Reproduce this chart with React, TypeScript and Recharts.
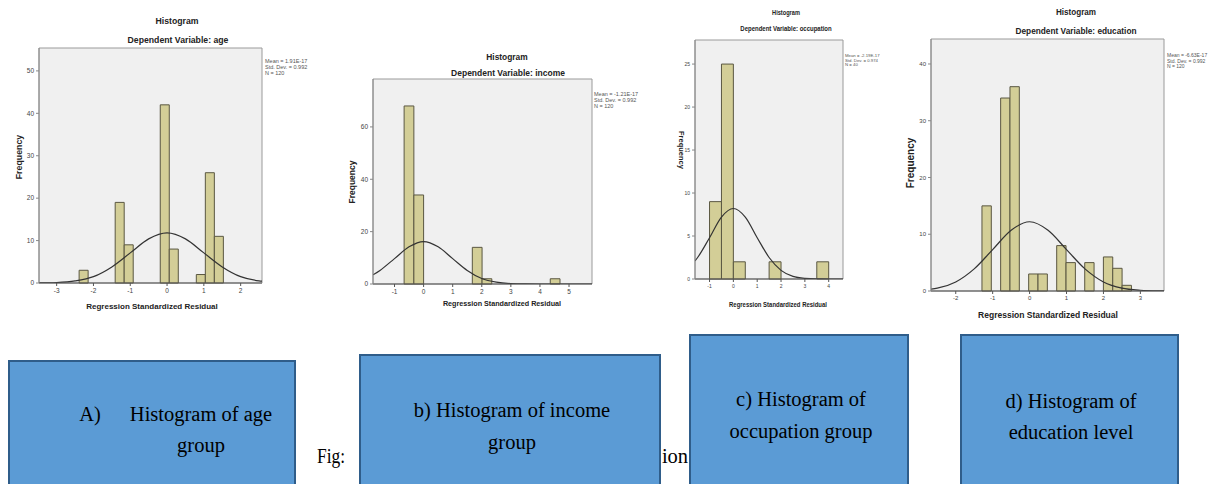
import React from "react";
import { ComposedChart, Line, XAxis, YAxis, ReferenceArea } from "recharts";

// a) age
const ageBinStart = [-2.39, -1.41, -1.165, -0.185, 0.06, 0.795, 1.04, 1.285];
const ageCounts = [3, 19, 9, 42, 8, 2, 26, 11];
const ageBinWidth = 0.245;
const ageCurveX = [-3.5, -3, -2.5, -2, -1.5, -1, -0.5, 0, 0.5, 1, 1.5, 2, 2.5, 2.6];
const ageCurveY = [0.02, 0.12, 0.5, 1.5, 3.8, 7.1, 10.4, 11.8, 10.4, 7.1, 3.8, 1.5, 0.5, 0.4];
const ageXTicks = [-3, -2, -1, 0, 1, 2];
const ageYTicks = [0, 10, 20, 30, 40, 50];

// b) income
const incomeBinStart = [-0.67, -0.335, 1.675, 2.01, 4.355];
const incomeCounts = [68, 34, 14, 2, 2];
const incomeBinWidth = 0.335;
const incomeCurveX = [-1.74, -1.5, -1, -0.5, 0, 0.5, 1, 1.5, 2, 2.5, 3, 3.5, 4, 5, 5.79];
const incomeCurveY = [3.5, 5.2, 9.7, 14.2, 16.2, 14.2, 9.7, 5.2, 2.1, 0.7, 0.17, 0.03, 0, 0, 0];
const incomeXTicks = [-1, 0, 1, 2, 3, 4, 5];
const incomeYTicks = [0, 20, 40, 60];

// c) occupation
const occBinStart = [-1, -0.5, 0, 1.5, 3.5];
const occCounts = [9, 25, 2, 2, 2];
const occBinWidth = 0.5;
const occCurveX = [-1.61, -1.5, -1, -0.5, 0, 0.5, 1, 1.5, 2, 2.5, 3, 3.5, 4, 4.6];
const occCurveY = [2.1, 2.5, 4.8, 7.2, 8.2, 7.2, 4.8, 2.5, 1.0, 0.3, 0.07, 0.01, 0, 0];
const occXTicks = [-1, 0, 1, 2, 3, 4];
const occYTicks = [0, 5, 10, 15, 20, 25];

// d) education
const eduBinStart = [-1.29, -0.784, -0.531, -0.025, 0.228, 0.734, 0.987, 1.493, 1.999, 2.252, 2.505];
const eduCounts = [15, 34, 36, 3, 3, 8, 5, 5, 6, 4, 1];
const eduBinWidth = 0.253;
const eduCurveX = [-2.67, -2.5, -2, -1.5, -1, -0.5, 0, 0.5, 1, 1.5, 2, 2.5, 3, 3.5, 3.64];
const eduCurveY = [0.33, 0.5, 1.6, 3.9, 7.3, 10.7, 12.2, 10.7, 7.3, 3.9, 1.6, 0.5, 0.13, 0.02, 0.01];
const eduXTicks = [-2, -1, 0, 1, 2, 3];
const eduYTicks = [0, 10, 20, 30, 40];

const BAR_FILL = "#d3ce97";
const BAR_EDGE = "#5a5742";

type HistProps = {
  left: number;
  top: number;
  width: number;
  height: number;
  xDomain: [number, number];
  yMax: number;
  xTicks: number[];
  yTicks: number[];
  binStart: number[];
  counts: number[];
  binWidth: number;
  curveX: number[];
  curveY: number[];
  tickFont: number;
};

function Histogram(p: HistProps) {
  const AXW = 30;
  const AXH = 16;
  const PAD = 4;
  const data = p.curveX.map((x, i) => ({ x, y: p.curveY[i] }));
  const tick = { fontSize: p.tickFont, fill: "#444" };
  return (
    <div style={{ position: "absolute", left: p.left - AXW, top: p.top - PAD }}>
      <ComposedChart
        width={p.width + AXW + PAD}
        height={p.height + PAD + AXH}
        data={data}
        margin={{ top: PAD, right: PAD, bottom: 0, left: 0 }}
      >
        <XAxis
          type="number"
          dataKey="x"
          domain={p.xDomain}
          ticks={p.xTicks}
          allowDataOverflow
          interval={0}
          height={AXH}
          tickSize={3}
          tick={tick}
          stroke="#555"
        />
        <YAxis
          type="number"
          domain={[0, p.yMax]}
          ticks={p.yTicks}
          allowDataOverflow
          interval={0}
          width={AXW}
          tickSize={3}
          tick={tick}
          stroke="#888"
        />
        <ReferenceArea
          x1={p.xDomain[0]}
          x2={p.xDomain[1]}
          y1={0}
          y2={p.yMax}
          fill="#f0f0f0"
          fillOpacity={1}
          stroke="#9a9a9a"
        />
        {p.binStart.map((b, i) => (
          <ReferenceArea
            key={i}
            x1={b}
            x2={b + p.binWidth}
            y1={0}
            y2={p.counts[i]}
            fill={BAR_FILL}
            fillOpacity={1}
            stroke={BAR_EDGE}
            strokeWidth={1}
          />
        ))}
        <Line
          dataKey="y"
          type="monotone"
          dot={false}
          stroke="#333"
          strokeWidth={1.2}
          isAnimationActive={false}
        />
      </ComposedChart>
    </div>
  );
}

function Txt({
  x,
  y,
  size,
  bold = true,
  rotate = 0,
  sx = 1,
  color = "#222",
  family,
  children,
}: {
  x: number;
  y: number;
  size: number;
  bold?: boolean;
  rotate?: number;
  sx?: number;
  color?: string;
  family?: string;
  children: React.ReactNode;
}) {
  return (
    <div
      style={{
        position: "absolute",
        left: x,
        top: y,
        transform: `translate(-50%,-50%) rotate(${rotate}deg) scaleX(${sx})`,
        fontSize: size,
        fontWeight: bold ? 700 : 400,
        whiteSpace: "nowrap",
        color,
        lineHeight: 1,
        fontFamily: family,
      }}
    >
      {children}
    </div>
  );
}

function Stats({ x, y, size, lines }: { x: number; y: number; size: number; lines: string[] }) {
  return (
    <div
      style={{
        position: "absolute",
        left: x,
        top: y,
        fontSize: size,
        lineHeight: 1.1,
        color: "#555",
        whiteSpace: "nowrap",
      }}
    >
      {lines.map((l, i) => (
        <div key={i}>{l}</div>
      ))}
    </div>
  );
}

function Box({ left, top, width, children }: { left: number; top: number; width: number; children?: React.ReactNode }) {
  return (
    <div
      style={{
        position: "absolute",
        left,
        top,
        width,
        height: 484 - top + 10,
        background: "#5b9bd5",
        border: "2px solid #2f5d8a",
        boxSizing: "border-box",
      }}
    >
      {children}
    </div>
  );
}

const serif = "'Liberation Serif', 'Times New Roman', serif";
const BOX_FONT = 20.5;

export default function App() {
  return (
    <div
      style={{
        position: "absolute",
        left: 0,
        top: 0,
        width: 1217,
        height: 484,
        overflow: "hidden",
        background: "#fff",
        fontFamily: "'Liberation Sans', Arial, sans-serif",
      }}
    >
      {/* a) age */}
      <Txt x={177} y={21} size={8.7}>Histogram</Txt>
      <Txt x={178} y={40} size={8.7}>Dependent Variable: age</Txt>
      <Histogram
        left={39}
        top={48}
        width={223}
        height={235}
        xDomain={[-3.48, 2.58]}
        yMax={55.4}
        xTicks={ageXTicks}
        yTicks={ageYTicks}
        binStart={ageBinStart}
        counts={ageCounts}
        binWidth={ageBinWidth}
        curveX={ageCurveX}
        curveY={ageCurveY}
        tickFont={6.5}
      />
      <Stats x={265} y={58} size={5.5} lines={["Mean = 1.91E-17", "Std. Dev. = 0.992", "N = 120"]} />
      <Txt x={19} y={157} size={8.8} rotate={-90}>Frequency</Txt>
      <Txt x={152} y={307} size={8}>Regression Standardized Residual</Txt>

      {/* b) income */}
      <Txt x={507} y={57} size={8.4}>Histogram</Txt>
      <Txt x={508} y={73} size={8.5}>Dependent Variable: income</Txt>
      <Histogram
        left={373}
        top={79}
        width={219}
        height={205}
        xDomain={[-1.74, 5.79]}
        yMax={78.3}
        xTicks={incomeXTicks}
        yTicks={incomeYTicks}
        binStart={incomeBinStart}
        counts={incomeCounts}
        binWidth={incomeBinWidth}
        curveX={incomeCurveX}
        curveY={incomeCurveY}
        tickFont={6.5}
      />
      <Stats x={594} y={91} size={5.5} lines={["Mean = -1.21E-17", "Std. Dev. = 0.992", "N = 120"]} />
      <Txt x={352} y={182} size={8.5} rotate={-90}>Frequency</Txt>
      <Txt x={502} y={304} size={7.2}>Regression Standardized Residual</Txt>

      {/* c) occupation */}
      <Txt x={786} y={13} size={7.5} sx={0.75}>Histogram</Txt>
      <Txt x={786} y={29} size={7.5} sx={0.8}>Dependent Variable: occupation</Txt>
      <Histogram
        left={695}
        top={40}
        width={148}
        height={239}
        xDomain={[-1.61, 4.6]}
        yMax={27.8}
        xTicks={occXTicks}
        yTicks={occYTicks}
        binStart={occBinStart}
        counts={occCounts}
        binWidth={occBinWidth}
        curveX={occCurveX}
        curveY={occCurveY}
        tickFont={5}
      />
      <Stats x={845} y={54} size={4.3} lines={["Mean = -2.19E-17", "Std. Dev. = 0.974", "N = 40"]} />
      <Txt x={681} y={150} size={7.5} rotate={90}>Frequency</Txt>
      <Txt x={778} y={304} size={7} sx={0.85}>Regression Standardized Residual</Txt>

      {/* d) education */}
      <Txt x={1076} y={12} size={9} sx={0.9}>Histogram</Txt>
      <Txt x={1076} y={31} size={9} sx={0.92}>Dependent Variable: education</Txt>
      <Histogram
        left={931}
        top={39}
        width={233}
        height={252}
        xDomain={[-2.67, 3.64]}
        yMax={44.4}
        xTicks={eduXTicks}
        yTicks={eduYTicks}
        binStart={eduBinStart}
        counts={eduCounts}
        binWidth={eduBinWidth}
        curveX={eduCurveX}
        curveY={eduCurveY}
        tickFont={6}
      />
      <Stats x={1167} y={53} size={5} lines={["Mean = -6.63E-17", "Std. Dev. = 0.992", "N = 120"]} />
      <Txt x={911} y={163} size={10} rotate={-90}>Frequency</Txt>
      <Txt x={1048} y={315} size={8.5}>Regression Standardized Residual</Txt>

      {/* caption fragments */}
      <Txt x={331} y={456} size={BOX_FONT} bold={false} family={serif} color="#000" sx={0.85}>Fig:</Txt>
      <Txt x={675} y={456} size={BOX_FONT} bold={false} family={serif} color="#000">ion</Txt>

      {/* label boxes */}
      <Box left={8} top={360} width={288}>
        <Txt x={80} y={52} size={BOX_FONT} bold={false} family={serif} color="#000">A)</Txt>
        <Txt x={191} y={52} size={BOX_FONT} bold={false} family={serif} color="#000">Histogram of age</Txt>
        <Txt x={191} y={83} size={BOX_FONT} bold={false} family={serif} color="#000">group</Txt>
      </Box>
      <Box left={359} top={354} width={302}>
        <Txt x={151} y={54} size={BOX_FONT} bold={false} family={serif} color="#000">b) Histogram of income</Txt>
        <Txt x={151} y={86} size={BOX_FONT} bold={false} family={serif} color="#000">group</Txt>
      </Box>
      <Box left={689} top={334} width={220}>
        <Txt x={110} y={63} size={BOX_FONT} bold={false} family={serif} color="#000">c) Histogram of</Txt>
        <Txt x={110} y={95} size={BOX_FONT} bold={false} family={serif} color="#000">occupation group</Txt>
      </Box>
      <Box left={960} top={334} width={219}>
        <Txt x={109} y={65} size={BOX_FONT} bold={false} family={serif} color="#000">d) Histogram of</Txt>
        <Txt x={109} y={96} size={BOX_FONT} bold={false} family={serif} color="#000">education level</Txt>
      </Box>
    </div>
  );
}
